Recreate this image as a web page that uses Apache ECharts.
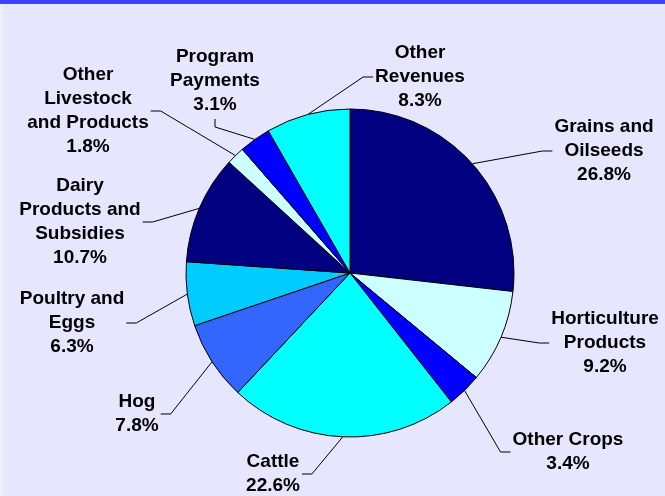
<!DOCTYPE html>
<html>
<head>
<meta charset="utf-8">
<script src="https://cdn.jsdelivr.net/npm/echarts@6/dist/echarts.min.js"></script>
<style>
html, body { margin: 0; padding: 0; background: #e6e6ff; }
#chart { width: 665px; height: 496px; }
</style>
</head>
<body>
<div id="chart"></div>
<script>
// categories (clockwise from 12 o'clock) and their shares, in %
var categories = ['Grains and\nOilseeds', 'Horticulture\nProducts', 'Other Crops', 'Cattle', 'Hog',
    'Poultry and\nEggs', 'Dairy\nProducts and\nSubsidies', 'Other\nLivestock\nand Products',
    'Program\nPayments', 'Other\nRevenues'];
var shares = [26.8, 9.2, 3.4, 22.6, 7.8, 6.3, 10.7, 1.8, 3.1, 8.3];
var colors = ['#000080', '#ccffff', '#0000ff', '#00ffff', '#3366ff',
    '#00ccff', '#000080', '#ccffff', '#0000ff', '#00ffff'];

// where each label block sits, and which side its leader line leaves from
var labelSpots = [
    [604, 151, 'left'], [605, 343, 'left'], [568, 452, 'left'], [273, 474, 'right'], [137, 414, 'right'],
    [72, 323, 'right'], [80, 222, 'right'], [88, 111, 'right'], [215, 81, 'bottom'], [420, 77, 'left']
];

var cx = 350, cy = 273, R = 164;

var total = shares.reduce(function (a, b) { return a + b; }, 0);
function midPoint(i) {
    var before = 0;
    for (var k = 0; k < i; k++) before += shares[k];
    var ang = (before + shares[i] / 2) / total * Math.PI * 2;
    return [cx + R * Math.sin(ang), cy - R * Math.cos(ang)];
}

var myChart = echarts.init(document.getElementById('chart'));
var option = {
    backgroundColor: '#e6e6ff',
    animation: false,
    graphic: [
        { type: 'rect', left: 0, top: 0, shape: { width: 665, height: 4 }, style: { fill: '#4040ff' } },
        { type: 'rect', left: 0, top: 4, shape: { width: 3, height: 492 }, style: { fill: '#efeff8' } }
    ],
    series: [{
        type: 'pie',
        center: [cx, cy],
        radius: R,
        startAngle: 90,
        clockwise: true,
        silent: true,
        itemStyle: { borderColor: '#000', borderWidth: 1 },
        label: {
            show: true,
            position: 'outside',
            color: '#000',
            fontFamily: 'Liberation Sans, Arial, sans-serif',
            fontWeight: 'bold',
            fontSize: 19,
            lineHeight: 24,
            align: 'center',
            formatter: function (p) {
                return p.name + '\n' + p.value.toFixed(1) + '%';
            }
        },
        labelLine: {
            show: true,
            length: 10,
            length2: 10,
            lineStyle: { color: '#000', width: 1 }
        },
        labelLayout: function (params) {
            var i = params.dataIndex;
            var s = labelSpots[i];
            var w = params.labelRect.width, h = params.labelRect.height;
            var p2, p1;
            if (s[2] === 'left') {
                p2 = [s[0] - w / 2 - 2, s[1]];
                p1 = [p2[0] - 10, s[1]];
            } else if (s[2] === 'right') {
                p2 = [s[0] + w / 2 + 2, s[1]];
                p1 = [p2[0] + 10, s[1]];
            } else {
                p2 = [s[0], s[1] + h / 2 + 2];
                p1 = [s[0], p2[1] + 8];
            }
            return {
                x: s[0],
                y: s[1],
                align: 'center',
                verticalAlign: 'middle',
                labelLinePoints: [midPoint(i), p1, p2]
            };
        },
        data: categories.map(function (c, i) {
            return { name: c, value: shares[i], itemStyle: { color: colors[i] } };
        })
    }]
};
myChart.setOption(option, true);
</script>
</body>
</html>
